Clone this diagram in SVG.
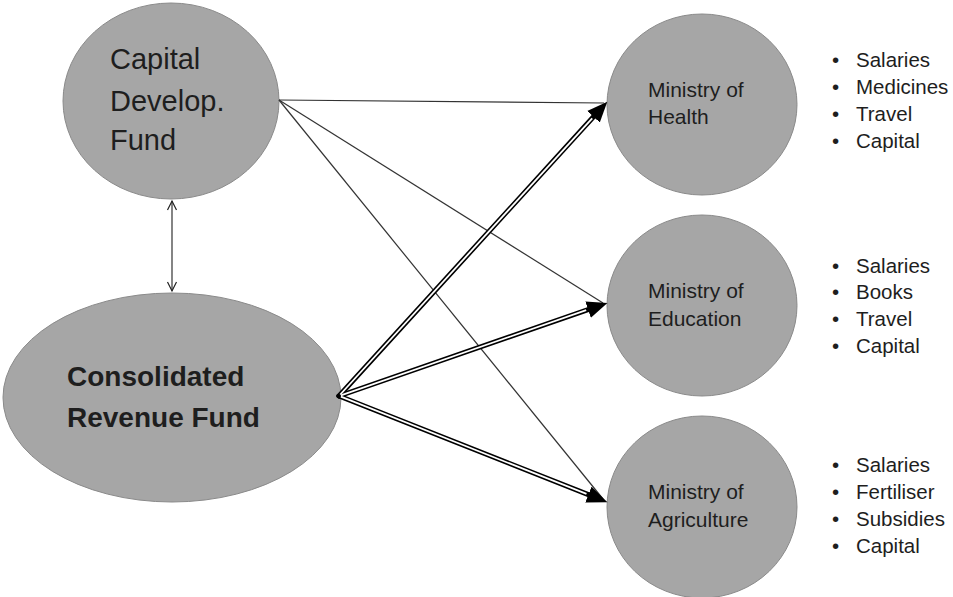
<svg xmlns="http://www.w3.org/2000/svg" width="953" height="597" viewBox="0 0 953 597">
<style>
.node{fill:#a6a6a6;stroke:#8a8a8a;stroke-width:1}
.t{font-family:"Liberation Sans",Arial,sans-serif;fill:#1e1e1e}
.big{font-size:29px}
.bold{font-size:28px;font-weight:bold}
.mid{font-size:21px}
.bl{font-family:"Liberation Sans",Arial,sans-serif;font-size:20.5px;fill:#1e1e1e}
.thin{stroke:#333;stroke-width:1.2;fill:none}
.dbl{stroke:#000;stroke-width:5;fill:none;stroke-linecap:round}
.inner{stroke:#fff;stroke-width:1.8;fill:none}
</style>
<defs>
<marker id="head" markerUnits="userSpaceOnUse" viewBox="0 -9 21 18" refX="0" refY="0" markerWidth="21" markerHeight="18" orient="auto">
<path d="M0,-8.5 L20.5,0 L0,8.5 z" fill="#000"/>
</marker>
<marker id="vee" markerUnits="userSpaceOnUse" viewBox="-10 -6 12 12" refX="0" refY="0" markerWidth="12" markerHeight="12" orient="auto-start-reverse">
<path d="M-9,-4.5 L0,0 L-9,4.5" fill="none" stroke="#222" stroke-width="1.2"/>
</marker>
</defs>
<rect width="953" height="597" fill="#fff"/>
<g id="n-capital">
<ellipse class="node" cx="171" cy="101" rx="108" ry="98"/>
<text class="t big" x="110" y="69">Capital</text>
<text class="t big" x="110" y="111">Develop.</text>
<text class="t big" x="110" y="150">Fund</text>
</g>
<g id="n-crf">
<ellipse class="node" cx="172" cy="397.5" rx="169" ry="104.5"/>
<text class="t bold" x="67" y="386">Consolidated</text>
<text class="t bold" x="67" y="427">Revenue Fund</text>
</g>
<g id="n-health">
<ellipse class="node" cx="702" cy="104.5" rx="95" ry="90.5"/>
<text class="t mid" x="648" y="97">Ministry of</text>
<text class="t mid" x="648" y="124">Health</text>
</g>
<g id="n-education">
<ellipse class="node" cx="702" cy="305.5" rx="95" ry="90.5"/>
<text class="t mid" x="648" y="298">Ministry of</text>
<text class="t mid" x="648" y="326">Education</text>
</g>
<g id="n-agriculture">
<ellipse class="node" cx="702" cy="507" rx="95" ry="91"/>
<text class="t mid" x="648" y="499">Ministry of</text>
<text class="t mid" x="648" y="527">Agriculture</text>
</g>
<g id="list-health">
<text class="bl" x="832" y="67">•</text><text class="bl" x="856" y="67">Salaries</text>
<text class="bl" x="832" y="94">•</text><text class="bl" x="856" y="94">Medicines</text>
<text class="bl" x="832" y="121">•</text><text class="bl" x="856" y="121">Travel</text>
<text class="bl" x="832" y="148">•</text><text class="bl" x="856" y="148">Capital</text>
</g>
<g id="list-education">
<text class="bl" x="832" y="273">•</text><text class="bl" x="856" y="273">Salaries</text>
<text class="bl" x="832" y="299">•</text><text class="bl" x="856" y="299">Books</text>
<text class="bl" x="832" y="326">•</text><text class="bl" x="856" y="326">Travel</text>
<text class="bl" x="832" y="353">•</text><text class="bl" x="856" y="353">Capital</text>
</g>
<g id="list-agriculture">
<text class="bl" x="832" y="472">•</text><text class="bl" x="856" y="472">Salaries</text>
<text class="bl" x="832" y="499">•</text><text class="bl" x="856" y="499">Fertiliser</text>
<text class="bl" x="832" y="526">•</text><text class="bl" x="856" y="526">Subsidies</text>
<text class="bl" x="832" y="553">•</text><text class="bl" x="856" y="553">Capital</text>
</g>
<g id="connectors">
<line class="thin" x1="172" y1="201" x2="172" y2="291" marker-start="url(#vee)" marker-end="url(#vee)"/>
<line class="thin" x1="279" y1="100" x2="604" y2="103"/>
<line class="thin" x1="279" y1="100" x2="603" y2="303"/>
<line class="thin" x1="279" y1="100" x2="603" y2="499"/>
<line class="dbl" x1="339" y1="396" x2="593.5" y2="116.8" marker-end="url(#head)"/>
<line class="dbl" x1="339" y1="396" x2="588.1" y2="309.6" marker-end="url(#head)"/>
<line class="dbl" x1="339" y1="396" x2="588.4" y2="494.6" marker-end="url(#head)"/>
<line class="inner" x1="340.3" y1="394.5" x2="592.2" y2="118.3"/>
<line class="inner" x1="340.9" y1="395.3" x2="586.2" y2="310.2"/>
<line class="inner" x1="340.9" y1="396.7" x2="586.5" y2="493.9"/>
</g>
</svg>
